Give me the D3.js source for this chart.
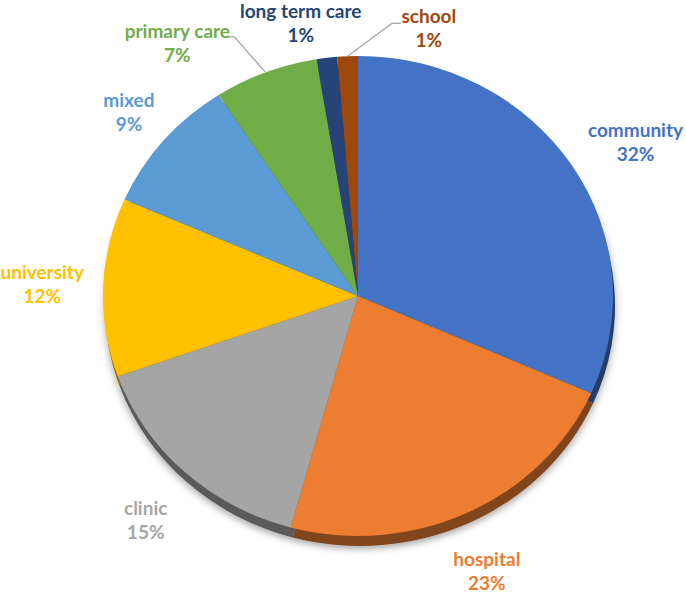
<!DOCTYPE html>
<html>
<head>
<meta charset="utf-8">
<script src="https://cdn.jsdelivr.net/npm/d3@7"></script>
<style>
  body { margin: 0; background: #fff; }
  svg text { font-family: Lato, "Open Sans", sans-serif; font-weight: 700; }
</style>
</head>
<body>
<div id="chart"></div>
<script>
// data
const categories = ["community", "hospital", "clinic", "university", "mixed", "primary care", "long term care", "school"];
const values = [31.6, 22.6, 15.3, 12.0, 9.2, 6.6, 1.3, 1.3];
const colors = ["#4472C4", "#ED7D31", "#A5A5A5", "#FFC000", "#5B9BD5", "#70AD47", "#264478", "#9E480E"];

const width = 686, height = 593;
const cx = 358, cy = 296, r = 255, ry = 240;
const sy = ry / r;

const svg = d3.select("#chart").append("svg")
    .attr("width", width)
    .attr("height", height);

const defs = svg.append("defs");
const shadow = defs.append("filter").attr("id", "shadow")
    .attr("x", "-20%").attr("y", "-20%").attr("width", "140%").attr("height", "140%");
shadow.append("feGaussianBlur").attr("in", "SourceAlpha").attr("stdDeviation", 4);
shadow.append("feOffset").attr("dx", 0).attr("dy", 3).attr("result", "b");
shadow.append("feComponentTransfer").append("feFuncA").attr("type", "linear").attr("slope", 0.35);
const merge = shadow.append("feMerge");
merge.append("feMergeNode");
merge.append("feMergeNode").attr("in", "SourceGraphic");

const data = categories.map((c, i) => ({name: c, value: values[i], color: colors[i]}));
const total = d3.sum(values);

const pie = d3.pie().sort(null).value(d => d.value);
const arcs = pie(data);
const arc = d3.arc().innerRadius(0).outerRadius(r);

// side / rim of the 3D disk
const side = svg.append("g")
    .attr("transform", `translate(${cx + 2},${cy + 10}) scale(1,${sy})`)
    .attr("filter", "url(#shadow)");
side.selectAll("path")
    .data(arcs)
    .enter()
    .append("path")
    .attr("d", arc)
    .attr("fill", d => d3.color(d.data.color).darker(1.7));

// top face
const face = svg.append("g")
    .attr("transform", `translate(${cx},${cy}) scale(1,${sy})`);
face.selectAll("path")
    .data(arcs)
    .enter()
    .append("path")
    .attr("d", arc)
    .attr("fill", d => d.data.color);

// small slices get their label moved out with a leader line; a few others nudged
const labelOverride = {
    "primary care": {angle: 326, radius: 323, end: [50, -7], elbow: [57, -7]},
    "long term care": {angle: 348.8, radius: 295},
    "school": {angle: 14, radius: 293, end: [-28, -5], elbow: [-37, -5]}
};
const labelNudge = {
    "community": [16, 0],
    "hospital": [-5, 0],
    "university": [-4, -9],
    "mixed": [9, 0]
};

function polar(angleRad, rad) {
    return [cx + rad * Math.sin(angleRad), cy - rad * Math.cos(angleRad) * sy];
}

const labels = svg.append("g");
arcs.forEach(d => {
    const mid = (d.startAngle + d.endAngle) / 2;
    const o = labelOverride[d.data.name];
    let pos;
    if (o) {
        pos = polar(o.angle * Math.PI / 180, o.radius);
    } else {
        const n = labelNudge[d.data.name] || [0, 0];
        pos = [cx + 312 * Math.sin(mid) + n[0], 304 - 296 * Math.cos(mid) + n[1]];
    }

    if (o && o.end) {
        const p0 = polar(mid, r);
        const pts = [p0, [pos[0] + o.elbow[0], pos[1] + o.elbow[1]], [pos[0] + o.end[0], pos[1] + o.end[1]]];
        labels.append("path")
            .attr("d", d3.line()(pts))
            .attr("fill", "none")
            .attr("stroke", "#A6A6A6")
            .attr("stroke-width", 1.2);
    }

    const t = labels.append("text")
        .attr("x", pos[0])
        .attr("y", pos[1])
        .attr("text-anchor", "middle")
        .attr("fill", d.data.color)
        .attr("font-size", "19px");
    t.append("tspan")
        .attr("x", pos[0])
        .attr("dy", "-0.29em")
        .text(d.data.name);
    t.append("tspan")
        .attr("x", pos[0])
        .attr("dy", "1.26em")
        .text(Math.round(d.data.value / total * 100) + "%");
});
</script>
</body>
</html>
